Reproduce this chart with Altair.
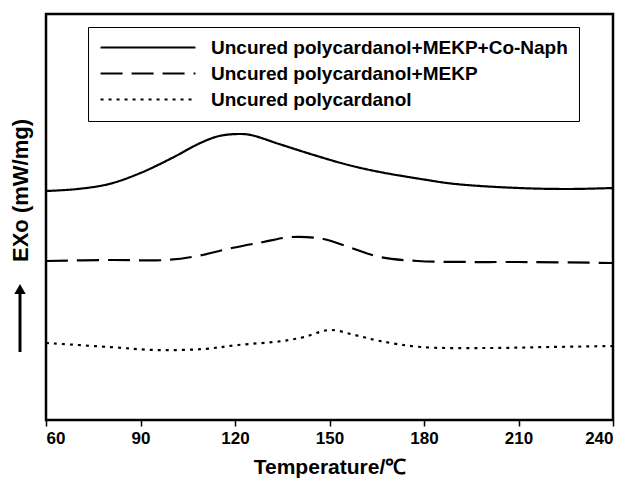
import altair as alt
import pandas as pd

series_names = [
    "Uncured polycardanol+MEKP+Co-Naph",
    "Uncured polycardanol+MEKP",
    "Uncured polycardanol",
]

t_solid = [60, 70, 80, 90, 100, 109, 115, 121, 125, 134, 145, 156, 166, 179, 190, 210, 226, 240]
v_solid = [229, 231, 236, 247, 262, 277, 284, 286, 285, 276, 265, 255, 248, 241, 236, 232, 231, 232]

t_dash = [60, 80, 98, 108, 119, 129, 138, 148, 157, 166, 178, 195, 210, 240]
v_dash = [159, 160, 160, 164, 172, 178, 183, 181, 172, 163, 159, 158, 158, 157]

t_dot = [60, 80, 95, 110, 121, 135, 142, 150, 158, 166, 179, 200, 220, 240]
v_dot = [77, 73, 70, 71, 75, 79, 83, 90, 85, 79, 73, 72, 73, 74]

rows = []
for name, ts, vs in zip(series_names, [t_solid, t_dash, t_dot], [v_solid, v_dash, v_dot]):
    for t, v in zip(ts, vs):
        rows.append({"series": name, "T": t, "v": v})
df = pd.DataFrame(rows)

font = "Liberation Sans"

lines = alt.Chart(df).mark_line(
    color="black", interpolate="catmull-rom"
).encode(
    x=alt.X(
        "T:Q",
        scale=alt.Scale(domain=[60, 240], nice=False, zero=False),
        axis=alt.Axis(
            values=[60, 90, 120, 150, 180, 210, 240],
            title="Temperature/℃",
            titleFontSize=21,
            titleFont=font,
            titleFontWeight="bold",
            titleColor="black",
            titlePadding=10,
            labelFont=font,
            labelFontSize=17,
            labelFontWeight="bold",
            labelColor="black",
            labelPadding=4,
            tickColor="black",
            tickSize=6,
            tickWidth=1.5,
            domain=False,
            grid=False,
        ),
    ),
    y=alt.Y(
        "v:Q",
        scale=alt.Scale(domain=[0, 406], nice=False, zero=False),
        axis=alt.Axis(
            title="EXo (mW/mg)",
            titleFontSize=22,
            titleFont=font,
            titleFontWeight="bold",
            titleColor="black",
            titleX=-26,
            titleY=176,
            titleAngle=270,
            titleAlign="center",
            titleBaseline="middle",
            labels=False,
            ticks=False,
            domain=False,
            grid=False,
        ),
    ),
    strokeWidth=alt.StrokeWidth(
        "series:N",
        sort=series_names,
        scale=alt.Scale(domain=series_names, range=[2.2, 2.2, 3.3]),
        legend=None,
    ),
    strokeDash=alt.StrokeDash(
        "series:N",
        sort=series_names,
        scale=alt.Scale(domain=series_names, range=[[1, 0], [22, 9], [3, 5]]),
        legend=alt.Legend(
            title=None,
            orient="none",
            legendX=42,
            legendY=13,
            symbolType="stroke",
            symbolSize=9000,
            clipHeight=19,
            symbolStrokeWidth=3,
            symbolStrokeColor="black",
            labelFont=font,
            labelFontSize=19,
            labelFontWeight="bold",
            labelColor="black",
            labelLimit=600,
            labelOffset=14,
            rowPadding=6,
            strokeColor="black",
            padding=11,
            fillColor="white",
        ),
    ),
)

arrow_shaft = alt.Chart(pd.DataFrame({"a": [0]})).mark_rule(
    color="black", strokeWidth=3
).encode(x=alt.value(-26), y=alt.value(276), y2=alt.value(338))

arrow_head = alt.Chart(pd.DataFrame({"a": [0]})).mark_point(
    shape="triangle-up", filled=True, color="black", opacity=1, size=130
).encode(x=alt.value(-26), y=alt.value(275))

chart = alt.layer(lines, arrow_shaft, arrow_head).properties(
    width=567,
    height=406,
    autosize=alt.AutoSizeParams(type="none"),
    padding={"left": 46, "top": 14, "right": 21, "bottom": 64},
).configure_view(
    stroke="black", strokeWidth=2.5
)

chart.save("out.html", embed_options={"renderer": "svg", "actions": False})
